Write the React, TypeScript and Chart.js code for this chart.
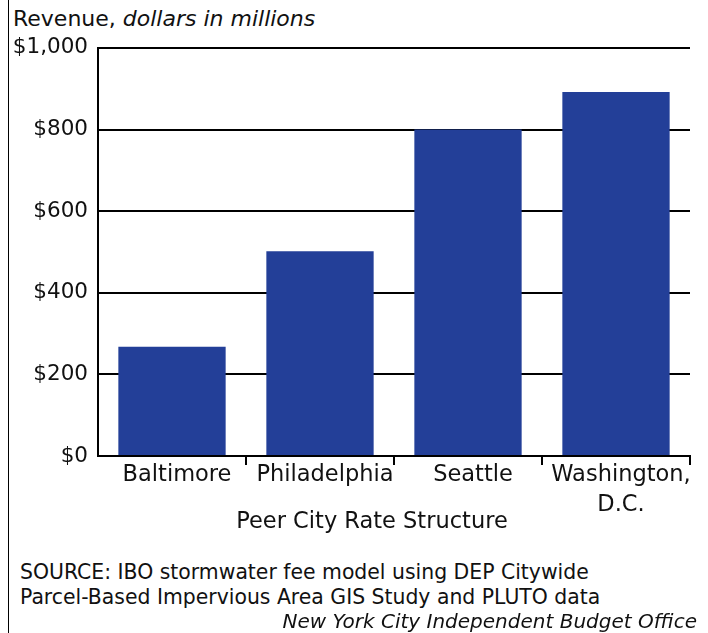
import React, { useEffect, useRef } from "react";
import { Chart, registerables } from "chart.js";

Chart.register(...registerables);

const categories: (string | string[])[] = ["Baltimore", "Philadelphia", "Seattle", ["Washington,", "D.C."]];
const revenue: number[] = [268, 502, 800, 892];
const yTicks: number[] = [0, 200, 400, 600, 800, 1000];
const yTickLabels: string[] = ["$0", "$200", "$400", "$600", "$800", "$1,000"];
const xTitle = "Peer City Rate Structure";
const FONT = "'DejaVu Sans', sans-serif";
const BAR = "#233F98";

export default function App() {
  const ref = useRef<HTMLCanvasElement | null>(null);
  useEffect(() => {
    if (!ref.current) return;
    const titlePlugin = {
      id: "xtitle",
      afterDraw(chart: any) {
        const { ctx, chartArea } = chart;
        ctx.save();
        ctx.font = `22.5px ${FONT}`;
        ctx.fillStyle = "#111";
        ctx.textAlign = "center";
        ctx.textBaseline = "middle";
        ctx.fillText(xTitle, (chartArea.left + chartArea.right) / 2 - 22, chartArea.bottom + 66);
        ctx.restore();
      },
    };
    const chart = new Chart(ref.current, {
      type: "bar",
      data: {
        labels: categories as any,
        datasets: [
          {
            data: revenue,
            backgroundColor: BAR,
            borderWidth: 0,
            categoryPercentage: 1,
            barPercentage: 0.725,
          },
        ],
      },
      options: {
        animation: false,
        responsive: false,
        maintainAspectRatio: false,
        layout: { padding: { top: 8, right: 18, left: 0, bottom: 0 } },
        plugins: { legend: { display: false }, tooltip: { enabled: false } },
        scales: {
          x: {
            offset: true,
            grid: {
              offset: true,
              drawOnChartArea: false,
              drawTicks: true,
              tickLength: 9,
              lineWidth: 2,
              color: (c: any) => (c.index === 0 ? "rgba(0,0,0,0)" : "#000"),
            },
            border: { display: true, color: "#000", width: 2 },
            ticks: {
              color: "#111",
              font: { family: FONT, size: 22.5, lineHeight: 1.3 },
              padding: -4,
              labelOffset: 5,
              maxRotation: 0,
              autoSkip: false,
            },
            afterFit: (s: any) => {
              s.height = 80;
            },
          },
          y: {
            min: 0,
            max: 1000,
            afterBuildTicks: (s: any) => {
              s.ticks = yTicks.map((v) => ({ value: v }));
            },
            grid: { color: "#000", lineWidth: 2, drawTicks: false },
            border: { display: true, color: "#000", width: 2 },
            ticks: {
              color: "#111",
              padding: 10,
              font: { family: FONT, size: 21.5 },
              callback: (v: any) => yTickLabels[yTicks.indexOf(Number(v))] ?? "",
            },
            afterFit: (s: any) => {
              s.width = 89;
            },
          },
        },
      },
      plugins: [titlePlugin],
    });
    return () => chart.destroy();
  }, []);

  return (
    <div style={{ position: "fixed", left: 0, top: 0, width: 708, height: 633, background: "#fff", fontFamily: FONT, color: "#111" }}>
      <div style={{ position: "absolute", left: 8, top: 0, width: 1, height: 633, background: "#000" }} />
      <div style={{ position: "absolute", left: 13, top: 5, fontSize: 22, lineHeight: "28px", whiteSpace: "nowrap" }}>
        Revenue, <i>dollars in millions</i>
      </div>
      <canvas ref={ref} width={699} height={511} style={{ position: "absolute", left: 9, top: 25, width: 699, height: 511 }} />
      <div style={{ position: "absolute", left: 20, top: 560, fontSize: 20.4, lineHeight: "25px", whiteSpace: "nowrap" }}>
        SOURCE: IBO stormwater fee model using DEP Citywide
        <br />
        Parcel-Based Impervious Area GIS Study and PLUTO data
      </div>
      <div style={{ position: "absolute", right: 11, top: 609, fontSize: 20, lineHeight: "25px", fontStyle: "italic", whiteSpace: "nowrap" }}>
        New York City Independent Budget Office
      </div>
    </div>
  );
}
